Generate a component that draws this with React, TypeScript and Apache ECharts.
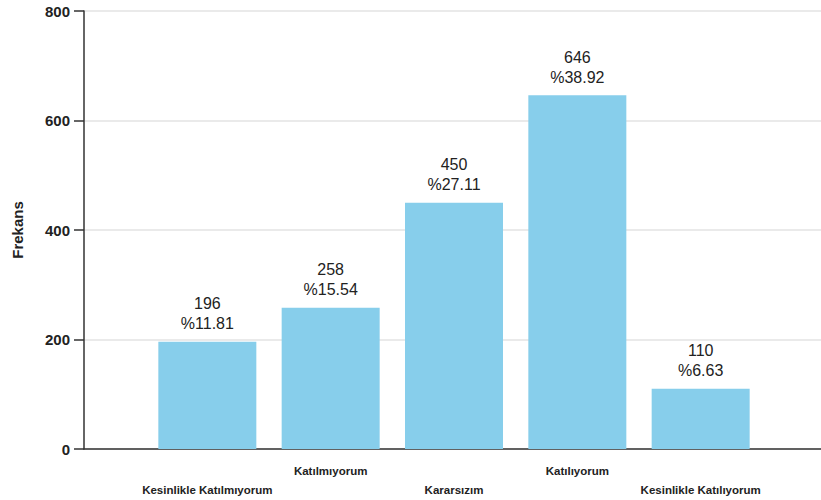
import React, { useEffect, useRef } from "react";
import * as echarts from "echarts";

const categories = [
  "Kesinlikle Katılmıyorum",
  "Katılmıyorum",
  "Kararsızım",
  "Katılıyorum",
  "Kesinlikle Katılıyorum",
];
const frequencies = [196, 258, 450, 646, 110];
const percentages = ["11.81", "15.54", "27.11", "38.92", "6.63"];
const yTicks = { min: 0, max: 800, interval: 200 };

export default function App() {
  const ref = useRef<HTMLDivElement>(null);
  useEffect(() => {
    document.body.style.margin = "0";
    if (!ref.current) return;
    const chart = echarts.init(ref.current, undefined, { renderer: "svg" });
    const data = frequencies.map((v, i) => [i + 1, v]);
    chart.setOption({
      animation: false,
      grid: {
        left: 84,
        width: 740,
        top: 11,
        bottom: 51,
        containLabel: false,
        outerBoundsMode: "none",
      },
      xAxis: {
        type: "value",
        min: 0,
        max: categories.length + 1,
        interval: 1,
        splitLine: { show: false },
        axisTick: { show: false },
        axisLine: { show: true, lineStyle: { color: "#333", width: 1.5 } },
        axisLabel: {
          margin: 12,
          fontFamily: "Liberation Sans, Arial, sans-serif",
          fontWeight: "bold",
          fontSize: 11.5,
          color: "#222",
          lineHeight: 19,
          showMinLabel: true,
          showMaxLabel: true,
          formatter: (v: number) => {
            const i = Math.round(v) - 1;
            if (i < 0 || i >= categories.length) return "";
            return i % 2 === 0 ? "\n" + categories[i] : categories[i];
          },
        },
      },
      yAxis: {
        type: "value",
        min: yTicks.min,
        max: yTicks.max,
        interval: yTicks.interval,
        name: "Frekans",
        nameLocation: "middle",
        nameRotate: 90,
        nameGap: 59,
        nameTextStyle: {
          fontFamily: "Liberation Sans, Arial, sans-serif",
          fontWeight: "bold",
          fontSize: 15,
          color: "#222",
        },
        axisLine: { show: true, lineStyle: { color: "#333", width: 1.5 } },
        axisTick: { show: true, length: 10, lineStyle: { color: "#333", width: 1.5 } },
        axisLabel: {
          margin: 14,
          fontFamily: "Liberation Sans, Arial, sans-serif",
          fontWeight: "bold",
          fontSize: 15,
          color: "#222",
        },
        splitLine: { show: true, lineStyle: { color: "#e3e3e3", width: 1.5 } },
      },
      series: [
        {
          type: "bar",
          data,
          barWidth: 98,
          itemStyle: { color: "#87CEEB" },
          label: {
            show: true,
            position: "top",
            distance: 8,
            fontFamily: "Liberation Sans, Arial, sans-serif",
            fontSize: 16,
            lineHeight: 20,
            color: "#222",
            formatter: (p: any) =>
              `${frequencies[p.dataIndex]}\n%${percentages[p.dataIndex]}`,
          },
        },
      ],
    });
    return () => chart.dispose();
  }, []);
  return <div ref={ref} style={{ width: 821, height: 500 }} />;
}
